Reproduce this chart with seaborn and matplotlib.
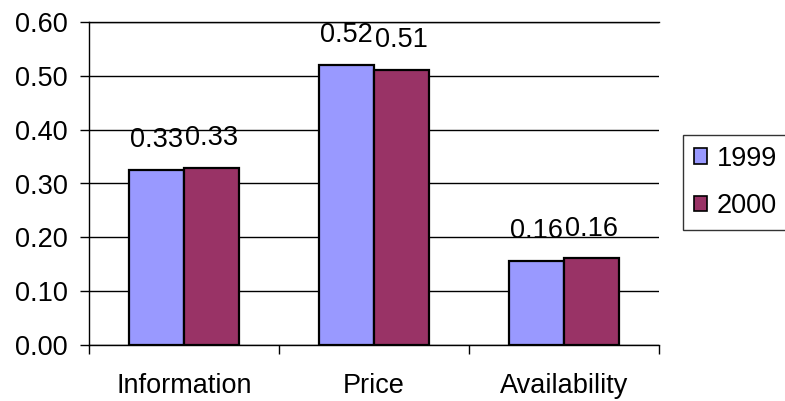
import matplotlib
matplotlib.use("Agg")
import matplotlib.pyplot as plt
from matplotlib.patches import Patch
from matplotlib.ticker import FixedLocator, MultipleLocator, FormatStrFormatter
import seaborn as sns
import pandas as pd

# Category names, years and the share per year
categories = ["Information", "Price", "Availability"]
years = ["1999", "2000"]
values_1999 = [0.326, 0.520, 0.156]
values_2000 = [0.329, 0.511, 0.161]
colors = ["#9999FF", "#993366"]

df = pd.DataFrame({
    "category": categories * 2,
    "year": [years[0]] * 3 + [years[1]] * 3,
    "value": values_1999 + values_2000,
})

sns.set_style("white")
plt.rcParams["font.family"] = ["Liberation Sans", "DejaVu Sans"]
plt.rcParams["text.color"] = "black"
plt.rcParams["xtick.color"] = "black"
plt.rcParams["ytick.color"] = "black"
FS = 19.5

fig = plt.figure(figsize=(7.85, 4.01), dpi=100)
ax = fig.add_axes([89 / 785, 1 - 345 / 401, (659 - 89) / 785, (345 - 22) / 401])

sns.barplot(data=df, x="category", y="value", hue="year", order=categories,
            hue_order=years, palette=colors, width=0.575, gap=0,
            edgecolor="black", linewidth=1.6, saturation=1, legend=False, ax=ax)

for cont in ax.containers:
    ax.bar_label(cont, fmt="%.2f", padding=12, fontsize=FS, color="black")

ax.set_ylim(0, 0.6)
ax.set_xlim(-0.5, 2.5)
ax.yaxis.set_major_locator(MultipleLocator(0.1))
ax.yaxis.set_major_formatter(FormatStrFormatter("%.2f"))
ax.grid(axis="y", color="black", linewidth=1.0)
ax.set_axisbelow(True)
ax.set_xlabel("")
ax.set_ylabel("")

for side in ["left", "bottom", "top"]:
    ax.spines[side].set_visible(True)
    ax.spines[side].set_color("black")
    ax.spines[side].set_linewidth(1.0)
ax.spines["right"].set_visible(False)

ax.tick_params(axis="y", which="major", direction="out", length=6.5, width=1,
               color="black", labelcolor="black", labelsize=FS, pad=9, left=True)
ax.xaxis.set_minor_locator(FixedLocator([-0.5, 0.5, 1.5, 2.5]))
ax.tick_params(axis="x", which="minor", direction="out", length=6.5, width=1,
               color="black", bottom=True)
ax.tick_params(axis="x", which="major", length=0, labelsize=FS,
               labelcolor="black", pad=20)

handles = [Patch(facecolor=c, edgecolor="black", linewidth=1.2) for c in colors]
leg = ax.legend(handles, years, loc="center left",
                bbox_to_anchor=(683 / 785, 1 - 182.5 / 401),
                bbox_transform=fig.transFigure, borderaxespad=0,
                fontsize=FS, frameon=True, fancybox=False, shadow=False,
                handlelength=0.5, handleheight=0.5, handletextpad=0.35,
                labelspacing=0.8, borderpad=0.4)
leg.get_frame().set_edgecolor("black")
leg.get_frame().set_linewidth(1.0)
for t in leg.get_texts():
    t.set_color("black")

fig.savefig("out.png", dpi=100)
